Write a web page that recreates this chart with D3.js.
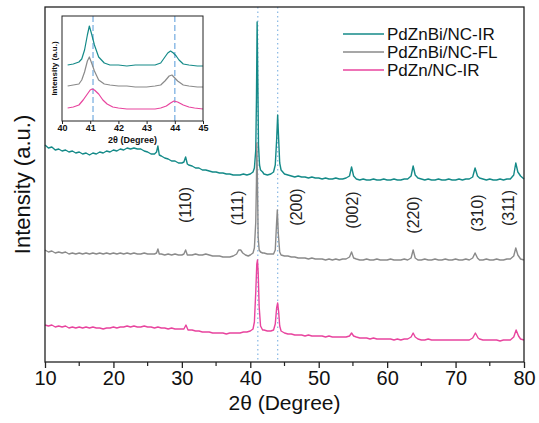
<!DOCTYPE html>
<html><head><meta charset="utf-8">
<script src="https://cdn.jsdelivr.net/npm/d3@7"></script>
<style>body{margin:0;background:#fff}svg{display:block;font-family:"Liberation Sans",Arial,sans-serif}</style>
</head><body><svg id="c" width="539" height="423"></svg>
<script>
// ---------- DATA ----------
const seriesNames = ["PdZnBi/NC-IR", "PdZnBi/NC-FL", "PdZn/NC-IR"];
const seriesColors = ["#148a88", "#8a8a8a", "#e8449e"];

const tealMain = [[10,217],[10.5,214],[11,215],[11.5,212],[12,213],[12.5,211],[13,212],[13.5,210],[14,211],[14.5,209],[15,210],[15.5,208],[16,209],[16.5,207],[17,209],[17.5,208],[18,210],[18.5,209],[19,211],[19.5,210],[20,212],[20.5,211],[21,213],[21.5,212],[22,214],[22.5,213],[23,214],[23.5,213],[24,213],[24.5,211],[25,210],[25.5,208],[26,208],[26.3,210],[26.5,216],[26.7,207],[27,206],[27.5,204],[28,203],[28.5,201],[29,201],[29.5,199],[30,199],[30.3,200],[30.55,205],[30.8,198],[31,197],[31.5,196],[32,194],[32.5,194],[33,192],[33.5,192],[34,191],[34.5,190],[35,190],[35.5,189],[36,189],[36.5,188],[37,188],[37.5,187],[38,187],[38.5,187],[39,188],[39.5,187],[40,188],[40.4,190],[40.6,194],[40.8,212],[40.9,262],[41.0,340],[41.1,282],[41.2,217],[41.35,197],[41.5,192],[41.8,190],[42,188],[42.5,187],[43,188],[43.4,190],[43.65,197],[43.85,222],[44.0,247],[44.15,222],[44.3,199],[44.5,192],[45,188],[45.5,187],[46,186],[46.5,185],[47,186],[47.5,185],[48,185],[48.5,184],[49,185],[49.5,184],[50,184],[50.5,183],[51,184],[51.5,183],[52,183],[52.5,184],[53,183],[53.5,183],[54,184],[54.5,186],[54.8,195],[55.1,186],[55.5,183],[56,182],[56.5,183],[57,182],[57.5,182],[58,183],[58.5,182],[59,182],[59.5,183],[60,182],[60.5,182],[61,183],[61.5,182],[62,182],[62.5,183],[63,183],[63.5,186],[63.8,196],[64.1,187],[64.5,184],[65,183],[65.5,182],[66,183],[66.5,182],[67,182],[67.5,183],[68,182],[68.5,182],[69,183],[69.5,182],[70,182],[70.5,183],[71,182],[71.5,183],[72,183],[72.5,185],[72.85,194],[73.2,186],[73.5,184],[74,183],[74.5,182],[75,183],[75.5,182],[76,182],[76.5,183],[77,182],[77.5,183],[78,183],[78.5,187],[78.8,199],[79.1,190],[79.5,186],[80,183]];

const greyMain = [[10,112],[10.5,110],[11,111],[11.5,109],[12,110],[12.5,109],[13,110],[13.5,108],[14,109],[14.5,108],[15,109],[15.5,108],[16,109],[16.5,108],[17,109],[17.5,108],[18,109],[18.5,108],[19,109],[19.5,108],[20,109],[20.5,108],[21,109],[21.5,108],[22,109],[22.5,108],[23,109],[23.5,108],[24,108],[24.5,109],[25,108],[25.5,108],[26,108],[26.3,109],[26.5,113],[26.7,108],[27,108],[27.5,107],[28,108],[28.5,107],[29,108],[29.5,107],[30,107],[30.3,108],[30.55,112],[30.8,107],[31,107],[31.5,107],[32,108],[32.5,107],[33,107],[33.5,108],[34,107],[34.5,106],[35,106],[35.5,106],[36,105],[36.5,105],[37,105],[37.5,106],[38,108],[38.3,112],[38.6,112],[38.9,109],[39.3,107],[39.7,106],[40,107],[40.4,109],[40.6,114],[40.8,140],[40.9,180],[40.95,219],[41.05,180],[41.15,125],[41.3,112],[41.5,110],[41.8,109],[42,109],[42.5,108],[43,108],[43.4,108],[43.65,112],[43.85,140],[43.95,152],[44.1,128],[44.3,110],[44.5,107],[45,106],[45.5,106],[46,105],[46.5,105],[47,104],[47.5,104],[48,104],[48.5,103],[49,104],[49.5,103],[50,103],[50.5,103],[51,102],[51.5,103],[52,102],[52.5,103],[53,102],[53.5,103],[54,103],[54.5,105],[54.8,110],[55.1,104],[55.5,103],[56,102],[56.5,102],[57,103],[57.5,102],[58,102],[58.5,103],[59,102],[59.5,102],[60,102],[60.5,103],[61,102],[61.5,102],[62,102],[62.5,103],[63,102],[63.5,104],[63.8,112],[64.1,104],[64.5,102],[65,102],[65.5,103],[66,102],[66.5,102],[67,103],[67.5,102],[68,102],[68.5,103],[69,102],[69.5,102],[70,103],[70.5,102],[71,102],[71.5,103],[72,102],[72.5,104],[72.85,109],[73.2,104],[73.5,102],[74,102],[74.5,103],[75,102],[75.5,102],[76,103],[76.5,102],[77,102],[77.5,103],[78,103],[78.5,106],[78.8,114],[79.1,107],[79.5,103],[80,102]];

const pinkMain = [[10,37],[10.5,36],[11,37],[11.5,35],[12,36],[12.5,35],[13,36],[13.5,34],[14,35],[14.5,34],[15,35],[15.5,34],[16,35],[16.5,34],[17,35],[17.5,34],[18,34],[18.5,33],[19,34],[19.5,34],[20,35],[20.5,34],[21,35],[21.5,35],[22,36],[22.5,35],[23,36],[23.5,35],[24,35],[24.5,36],[25,35],[25.5,35],[26,34],[26.5,35],[27,34],[27.5,34],[28,33],[28.5,34],[29,33],[29.5,33],[30,33],[30.3,33],[30.6,37],[30.9,32],[31.5,32],[32,31],[32.5,31],[33,30],[33.5,30],[34,30],[34.5,29],[35,29],[35.5,29],[36,29],[36.5,28],[37,29],[37.5,29],[38,29],[38.5,29],[39,30],[39.5,30],[40,31],[40.4,33],[40.6,40],[40.8,70],[40.95,98],[41.05,102],[41.15,90],[41.3,55],[41.5,36],[41.8,32],[42,32],[42.5,31],[43,31],[43.4,32],[43.65,38],[43.85,54],[44.0,59],[44.15,50],[44.3,36],[44.5,31],[45,29],[45.5,28],[46,28],[46.5,27],[47,27],[47.5,27],[48,26],[48.5,27],[49,26],[49.5,26],[50,26],[50.5,26],[51,25],[51.5,26],[52,25],[52.5,25],[53,25],[53.5,25],[54,25],[54.5,26],[54.8,29],[55.1,26],[55.5,25],[56,24],[56.5,24],[57,24],[57.5,23],[58,24],[58.5,23],[59,23],[59.5,23],[60,23],[60.5,23],[61,22],[61.5,23],[62,22],[62.5,23],[63,23],[63.5,25],[63.8,29],[64.1,25],[64.5,23],[65,22],[65.5,22],[66,23],[66.5,22],[67,22],[67.5,22],[68,22],[68.5,22],[69,22],[69.5,22],[70,22],[70.5,22],[71,22],[71.5,22],[72,22],[72.5,24],[72.9,29],[73.3,24],[73.5,23],[74,22],[74.5,22],[75,22],[75.5,22],[76,22],[76.5,21],[77,22],[77.5,22],[78,22],[78.5,25],[78.85,32],[79.2,26],[79.5,23],[80,22]];

// inset (zoom 40-45°)
const tealInset = [[40.2,56],[40.4,57],[40.6,59],[40.7,62],[40.8,71],[40.9,86],[40.97,95],[41.05,87],[41.15,76],[41.3,64],[41.5,58],[41.7,56],[42,56],[42.3,55],[42.6,56],[43,56],[43.3,56],[43.5,58],[43.65,64],[43.75,68],[43.85,70],[43.95,68],[44.05,65],[44.15,61],[44.3,57],[44.5,56],[44.8,55],[45,55]];
const greyInset = [[40.2,35],[40.4,36],[40.6,37],[40.7,41],[40.8,49],[40.9,60],[40.97,64],[41.05,58],[41.15,50],[41.3,41],[41.5,37],[41.7,36],[42,35],[42.3,35],[42.6,34],[43,34],[43.3,35],[43.5,36],[43.65,40],[43.8,45],[43.9,46],[44.0,43],[44.1,40],[44.3,36],[44.5,35],[44.8,34],[45,34]];
const pinkInset = [[40.2,13],[40.4,14],[40.6,16],[40.75,21],[40.9,27],[41.0,31],[41.07,32],[41.15,31],[41.3,27],[41.45,21],[41.6,17],[41.8,14],[42,13],[42.3,12],[42.6,12],[43,12],[43.3,12],[43.5,13],[43.7,15],[43.85,18],[43.97,20],[44.1,19],[44.3,16],[44.5,14],[44.7,13],[45,12]];

const refLines = [41.1, 44.0];
const mainTicks = [10,20,30,40,50,60,70,80];
const mainMinor = [15,25,35,45,55,65,75];
const insetTicks = [40,41,42,43,44,45];
const hklLabels = ["(110)","(111)","(200)","(002)","(220)","(310)","(311)"];
const hklAngle = [30.6,38.1,46.7,54.9,63.8,73.2,77.8];
const hklLevel = [157,154,155,152,147,149,154];

// ---------- DRAW ----------
const svg = d3.select("#c");
const L=45,R=524,T=7,B=362;
const x = d3.scaleLinear().domain([10,80]).range([L,R]);
const y = d3.scaleLinear().domain([0,355]).range([B,T]);

const line = d3.line().x(d=>x(d[0])).y(d=>y(d[1]));

svg.append("rect").attr("x",L).attr("y",T).attr("width",R-L).attr("height",B-T).attr("fill","#fff");

refLines.forEach(v=>{
  svg.append("line").attr("x1",x(v)).attr("x2",x(v)).attr("y1",T).attr("y2",B)
    .attr("stroke","#8fbce6").attr("stroke-width",1.3).attr("stroke-dasharray","1.5,3");
});

[tealMain,greyMain,pinkMain].forEach((s,i)=>{
  svg.append("path").datum(s).attr("d",line).attr("fill","none")
    .attr("stroke",seriesColors[i]).attr("stroke-width",1.4).attr("stroke-linejoin","round");
});

hklLabels.forEach((t,i)=>{
  svg.append("text").attr("transform",`translate(${x(hklAngle[i])},${y(hklLevel[i])}) rotate(-90)`)
    .attr("text-anchor","middle").attr("dominant-baseline","central")
    .attr("font-size",16).attr("fill","#222").text(t);
});

svg.append("rect").attr("x",L).attr("y",T).attr("width",R-L).attr("height",B-T)
  .attr("fill","none").attr("stroke","#222").attr("stroke-width",1.3);

const xa = svg.append("g").attr("transform",`translate(0,${B})`)
  .call(d3.axisBottom(x).tickValues(mainTicks).tickSize(6).tickPadding(3).tickFormat(d3.format("d")));
xa.select(".domain").remove();
xa.selectAll("line").attr("stroke","#222").attr("stroke-width",1.3);
xa.selectAll("text").attr("font-size",20).attr("fill","#111").attr("dy","0.72em")
  .attr("font-family","Liberation Sans, Arial, sans-serif");
mainMinor.forEach(v=>{
  svg.append("line").attr("x1",x(v)).attr("x2",x(v)).attr("y1",B).attr("y2",B+4)
    .attr("stroke","#222").attr("stroke-width",1.2);
});
svg.append("text").attr("x",(L+R)/2).attr("y",410).attr("text-anchor","middle")
  .attr("font-size",21).attr("fill","#111").text("2θ (Degree)");
svg.append("text").attr("transform",`translate(30,${(T+B)/2}) rotate(-90)`)
  .attr("text-anchor","middle").attr("font-size",22).attr("fill","#111").text("Intensity (a.u.)");

seriesNames.forEach((n,i)=>{
  const ly = 34 + i*18;
  svg.append("line").attr("x1",343).attr("x2",384).attr("y1",ly).attr("y2",ly)
    .attr("stroke",seriesColors[i]).attr("stroke-width",1.5);
  svg.append("text").attr("x",387).attr("y",ly).attr("dominant-baseline","central")
    .attr("font-size",17).attr("fill","#111").text(n);
});

// inset
const iL=62,iR=203,iT=16,iB=121;
const xi = d3.scaleLinear().domain([40,45]).range([iL,iR]);
const yi = d3.scaleLinear().domain([0,105]).range([iB,iT]);
const linei = d3.line().x(d=>xi(d[0])).y(d=>yi(d[1]));
svg.append("rect").attr("x",iL).attr("y",iT).attr("width",iR-iL).attr("height",iB-iT).attr("fill","#fff");
refLines.forEach(v=>{
  svg.append("line").attr("x1",xi(v)).attr("x2",xi(v)).attr("y1",iT).attr("y2",iB)
    .attr("stroke","#8fbce6").attr("stroke-width",1.5).attr("stroke-dasharray","6,3");
});
[tealInset,greyInset,pinkInset].forEach((s,i)=>{
  svg.append("path").datum(s).attr("d",linei).attr("fill","none")
    .attr("stroke",seriesColors[i]).attr("stroke-width",1.2).attr("stroke-linejoin","round");
});
svg.append("rect").attr("x",iL).attr("y",iT).attr("width",iR-iL).attr("height",iB-iT)
  .attr("fill","none").attr("stroke","#222").attr("stroke-width",1);
const xia = svg.append("g").attr("transform",`translate(0,${iB})`)
  .call(d3.axisBottom(xi).tickValues(insetTicks).tickSize(3).tickPadding(1).tickFormat(d3.format("d")));
xia.select(".domain").remove();
xia.selectAll("line").attr("stroke","#222");
xia.selectAll("text").attr("font-size",9).attr("font-weight","bold").attr("fill","#111")
  .attr("dy","0.71em").attr("font-family","Liberation Sans, Arial, sans-serif");
svg.append("text").attr("x",(iL+iR)/2).attr("y",143).attr("text-anchor","middle")
  .attr("font-size",9).attr("font-weight","bold").attr("fill","#111").text("2θ (Degree)");
svg.append("text").attr("transform",`translate(57,${(iT+iB)/2}) rotate(-90)`)
  .attr("text-anchor","middle").attr("font-size",8).attr("font-weight","bold").attr("fill","#111").text("Intensity (a.u.)");
</script></body></html>
